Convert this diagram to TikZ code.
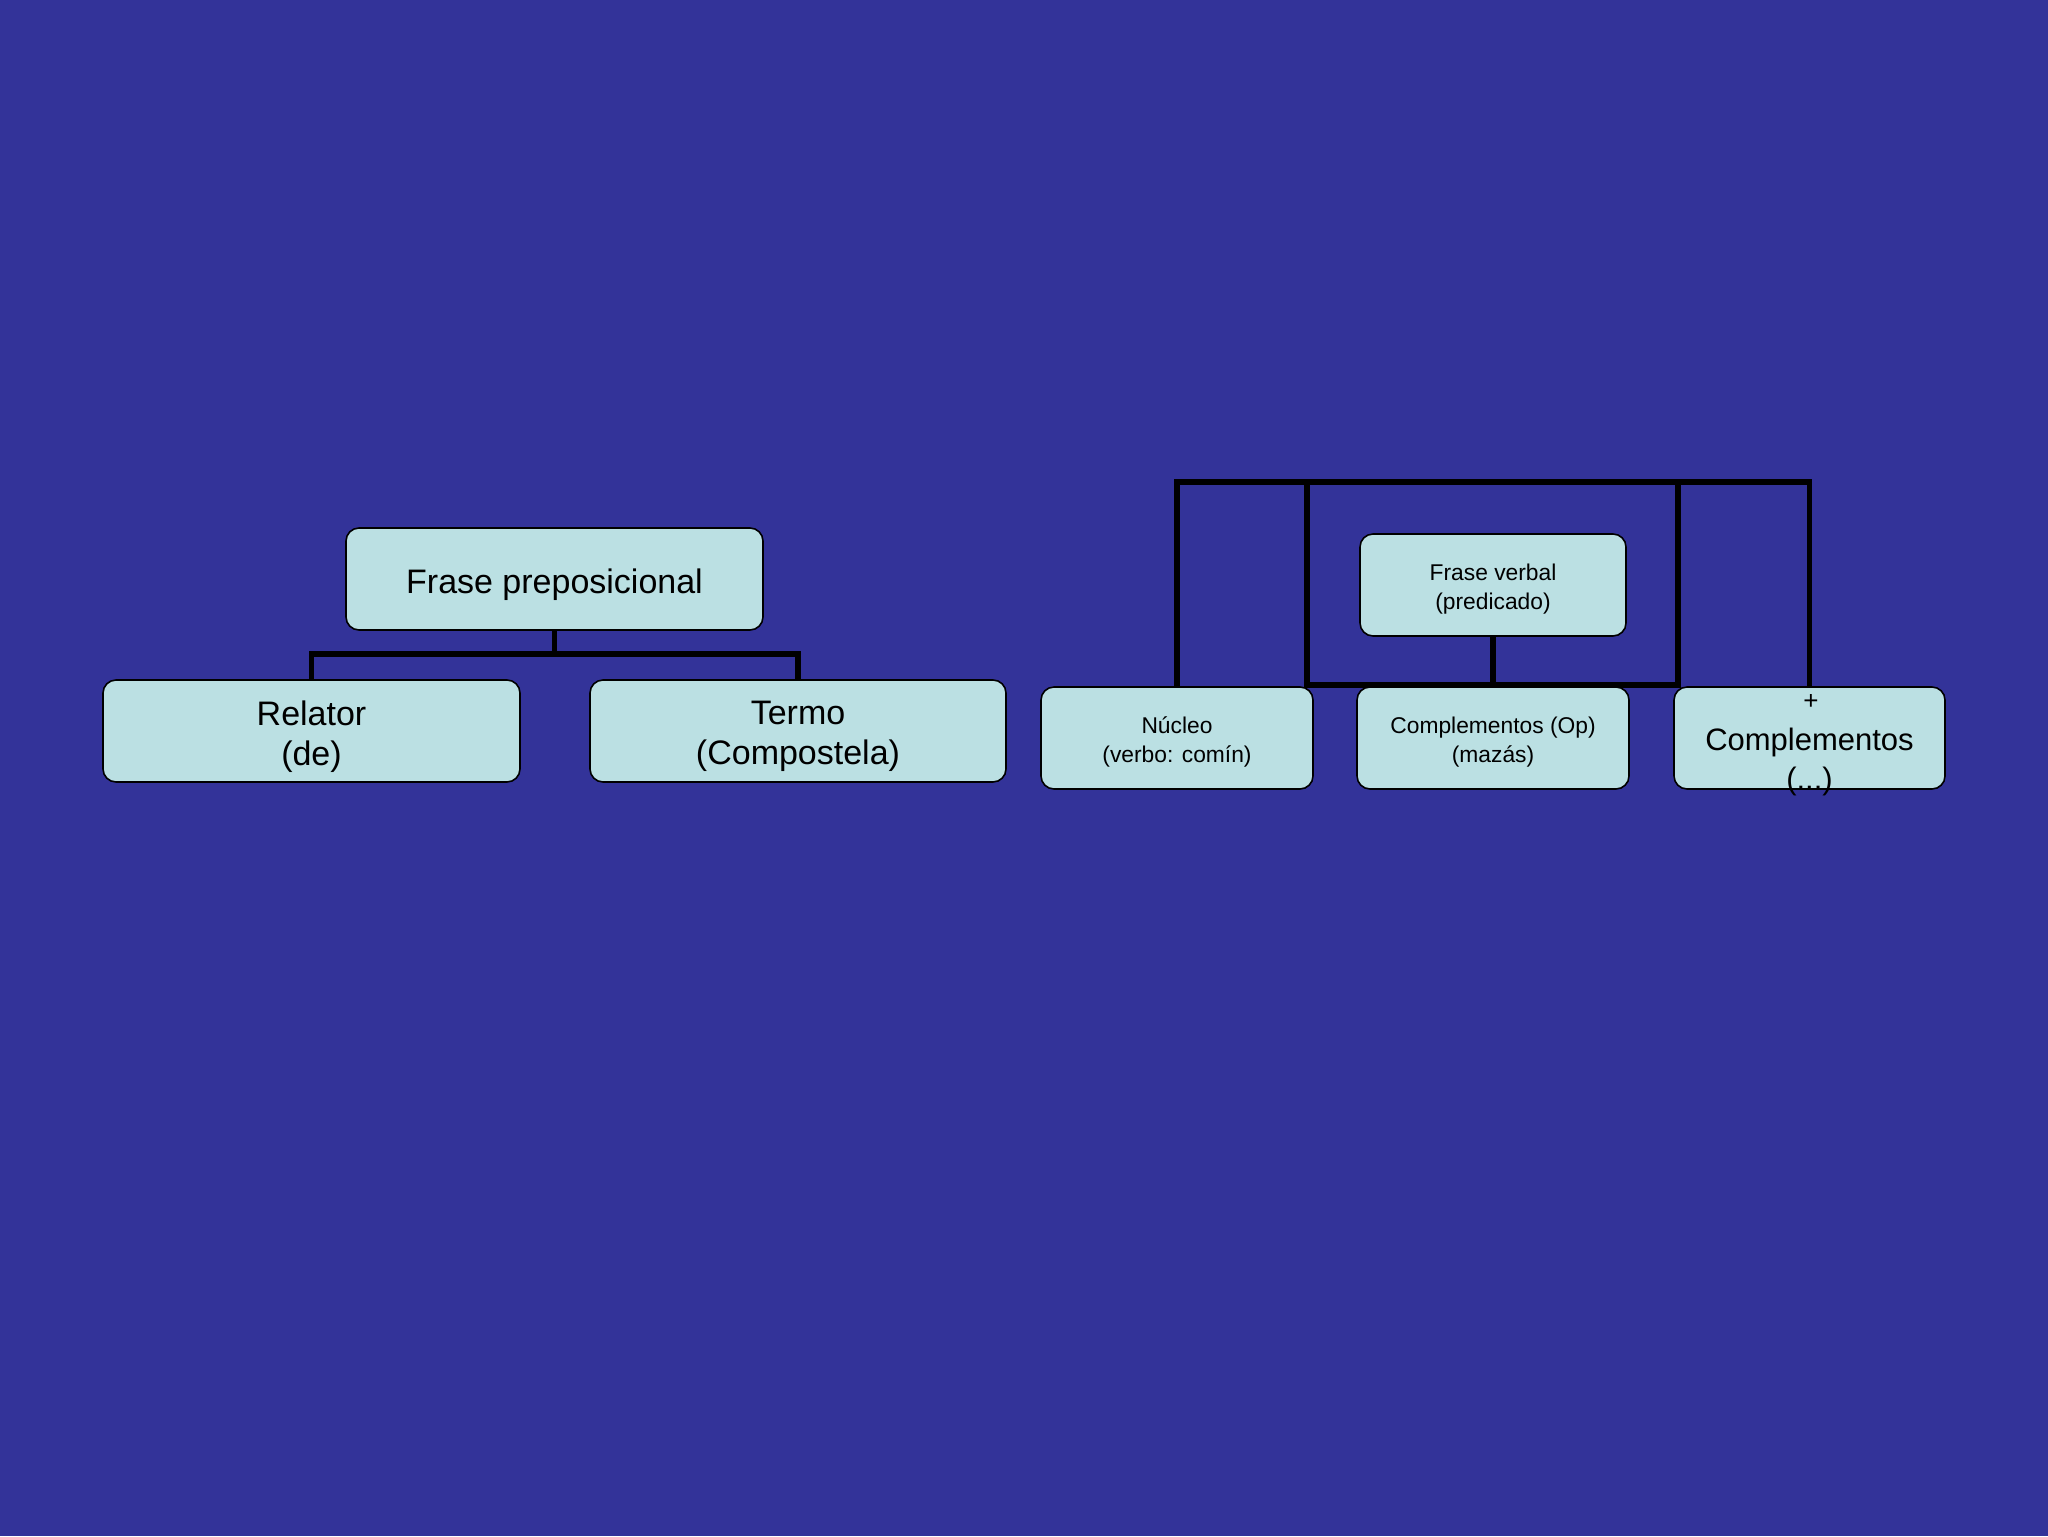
\documentclass[tikz,border=0pt]{standalone}
\usepackage{fontspec}
\setmainfont{Liberation Sans}
\definecolor{bgblue}{RGB}{51,51,153}
\definecolor{boxfill}{RGB}{187,224,227}
\tikzset{
  box/.style={draw=black, line width=0.8pt, fill=boxfill, rounded corners=6.5pt,
    minimum height=51pt, inner sep=0pt},
  lbl/.style={align=center, inner sep=0pt, text=black},
  bigtext/.style={lbl, font=\fontsize{17}{20}\selectfont, yshift=-2.8pt},
  smalltext/.style={lbl, font=\fontsize{11.4}{14.4}\selectfont, yshift=-2pt},
  conn/.style={draw=black, line width=2.6pt},
}
\begin{document}
\begin{tikzpicture}[x=0.5pt,y=-0.5pt]
\fill[bgblue] (0,0) rectangle (2048,1536);
\useasboundingbox (0,0) rectangle (2048,1536);

% coordinates for connectors
\coordinate (jl) at (554.5,654);
\coordinate (topr) at (0,482);

% inner rectangle (drawn under boxes)
\draw[conn] (1307,482) rectangle (1678,685);

% left tree
\node[box, minimum width=208.5pt] (fp) at (554.5,579) {};
\node[box, minimum width=208.5pt] (rel) at (311.5,731) {};
\node[box, minimum width=208pt] (ter) at (798,731) {};

\draw[conn] (fp.south) -- (jl);
\draw[conn] (rel.north) |- (jl) -| (ter.north);

\node[bigtext] (fpt) at (fp.center) {Frase preposicional};
\node[bigtext] (relt) at (rel.center) {Relator\\(de)};
\node[bigtext] (tert) at (ter.center) {Termo\\(Compostela)};

% right tree
\node[box, minimum width=136pt] (nuc) at (1177,738) {};
\node[box, minimum width=136pt] (cop) at (1493,738) {};
\node[box, minimum width=135.5pt] (pl) at (1809.5,738) {};
\node[box, minimum width=133pt] (fv) at (1493,585) {};

\draw[conn] (nuc.north) -- (nuc.north |- topr) -- (pl.north |- topr) -- (pl.north);
\draw[conn] (fv.south) -- (cop.north);

\node[smalltext] (fvt) at (fv.center) {Frase verbal\\(predicado)};
\node[smalltext] (nuct) at (nuc.center) {Núcleo\\(verbo: comín)};
\node[smalltext] (copt) at (cop.center) {Complementos (Op)\\(mazás)};

\node[lbl, font=\fontsize{13}{15}\selectfont, anchor=base] (plt1) at (1811,709) {+};
\node[lbl, font=\fontsize{15.5}{19.5}\selectfont, anchor=base] (plt2) at (1809.5,750) {Complementos};
\node[lbl, font=\fontsize{15.5}{19.5}\selectfont, anchor=base] (plt3) at (1809.5,789) {(...)};
\end{tikzpicture}
\end{document}
